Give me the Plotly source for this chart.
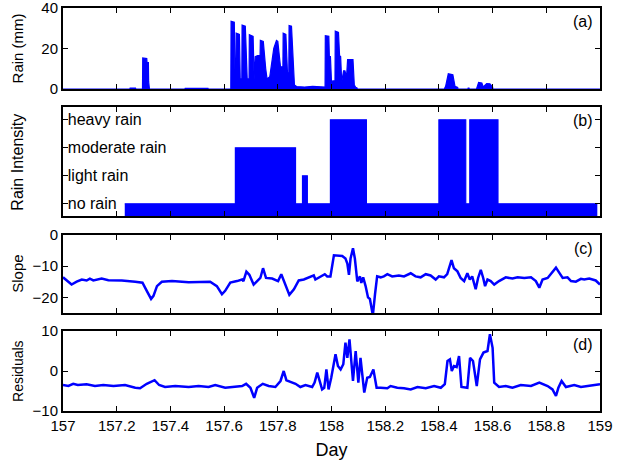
import plotly.graph_objects as go

# ---------------- data ----------------
# (a) rain (mm)
rain_day = [157.0, 157.249, 157.25, 157.27, 157.271, 157.296, 157.297, 157.312, 157.313, 157.318, 157.319, 157.322,
            157.454, 157.455, 157.54, 157.541,
            157.625, 157.626, 157.638, 157.641, 157.644, 157.645, 157.657, 157.66, 157.666, 157.667, 157.679,
            157.682, 157.686, 157.693, 157.694, 157.708, 157.712, 157.716, 157.725, 157.734, 157.735, 157.746,
            157.752, 157.755, 157.76, 157.77, 157.785, 157.795, 157.80, 157.81, 157.819, 157.82, 157.83, 157.836,
            157.841, 157.842, 157.851, 157.856, 157.862, 157.87, 157.9, 157.93, 157.976, 157.977, 157.99, 157.992,
            157.996, 158.0, 158.005, 158.013, 158.014, 158.026, 158.03, 158.034, 158.038, 158.045, 158.05, 158.056,
            158.06, 158.08, 158.085, 158.09, 158.095, 158.096,
            158.42, 158.425, 158.435, 158.452, 158.46, 158.47, 158.471, 158.508, 158.509, 158.512, 158.513,
            158.54, 158.548, 158.56, 158.565, 158.578, 158.59, 158.60, 158.601, 159.0]
rain_mm = [0.0, 0.0, 0.5, 0.5, 0.0, 0.0, 15.3, 15.0, 13.0, 13.0, 3.5, 0.0,
           0.0, 0.3, 0.3, 0.0,
           0.0, 33.4, 33.0, 5.0, 5.0, 27.6, 27.0, 5.0, 5.0, 31.6,
           31.0, 17.0, 5.0, 5.0, 26.8, 26.0, 5.0, 16.0, 16.5, 16.5, 24.0, 23.5,
           12.0, 10.0, 5.0, 6.0, 20.0, 24.0, 23.5, 11.0, 11.0, 27.6, 27.0, 8.0,
           8.0, 31.3, 31.0, 14.0, 2.0, 1.2, 1.0, 1.3, 1.0, 26.3, 26.0, 16.0,
           16.0, 3.5, 4.0, 4.0, 28.6, 28.0, 16.5, 16.0, 3.5, 9.0, 9.0, 6.0,
           14.5, 14.5, 2.0, 0.8, 0.5, 0.0,
           0.0, 1.3, 7.5, 7.0, 1.3, 0.8, 0.0, 0.0, 0.5, 0.5, 0.0,
           0.0, 3.3, 3.0, 1.0, 2.7, 2.6, 1.0, 0.0, 0.0]

# (b) rain intensity (1=no rain, 2=light, 3=moderate, 4=heavy), step starts
intensity_day = [157.23, 157.642, 157.866, 157.892, 157.91, 157.996, 158.13, 158.40, 158.50, 158.515, 158.62, 158.99]
intensity_level = [1, 3, 1, 2, 1, 4, 1, 4, 1, 4, 1, 1]
intensity_labels = ["no rain", "light rain", "moderate rain", "heavy rain"]

# (c) slope
slope_day = [157.0, 157.003, 157.032, 157.051, 157.07, 157.088, 157.10, 157.113, 157.126, 157.144, 157.169,
             157.219, 157.269, 157.296, 157.312, 157.328, 157.337, 157.35, 157.368, 157.406, 157.468, 157.517,
             157.548, 157.573, 157.592, 157.604, 157.623, 157.648, 157.667, 157.672, 157.683, 157.694, 157.71,
             157.723, 157.735, 157.745, 157.756, 157.779, 157.801, 157.813, 157.828, 157.843, 157.86, 157.878,
             157.897, 157.915, 157.934, 157.94, 157.959, 157.975, 157.984, 157.996, 158.009, 158.04, 158.052,
             158.059, 158.065, 158.071, 158.08, 158.087, 158.096, 158.106, 158.111, 158.118, 158.127, 158.136,
             158.143, 158.154, 158.162, 158.17, 158.183, 158.195, 158.208, 158.226, 158.251, 158.27, 158.295,
             158.313, 158.332, 158.351, 158.369, 158.388, 158.40, 158.419, 158.431, 158.447, 158.456, 158.469,
             158.481, 158.494, 158.506, 158.515, 158.524, 158.537, 158.546, 158.556, 158.565, 158.572, 158.581,
             158.593, 158.606, 158.624, 158.649, 158.674, 158.693, 158.718, 158.743, 158.761, 158.774, 158.786,
             158.805, 158.821, 158.836, 158.848, 158.861, 158.879, 158.892, 158.91, 158.929, 158.941, 158.96,
             158.972, 158.984, 159.0]
slope_val = [-13.6, -13.8, -15.9, -15.0, -14.3, -14.6, -14.0, -14.6, -14.3, -14.0, -14.5,
             -14.6, -15.0, -15.3, -17.9, -20.5, -19.5, -16.4, -15.0, -14.8, -15.2, -15.0,
             -15.0, -16.4, -19.0, -17.9, -15.3, -14.8, -14.3, -14.8, -11.8, -12.8, -15.9,
             -14.8, -13.8, -10.7, -13.8, -14.0, -14.8, -12.6, -15.9, -19.2, -17.4, -14.6,
             -14.3, -13.6, -13.0, -14.3, -13.3, -12.6, -13.3, -13.3, -6.6, -6.8, -7.6,
             -9.2, -12.8, -7.6, -4.3, -7.6, -14.9, -13.3, -15.4, -13.6, -16.4, -20.0,
             -20.5, -25.7, -19.0, -13.3, -13.6, -13.3, -12.6, -13.3, -13.0, -13.3, -12.3,
             -13.3, -13.6, -12.6, -13.0, -14.3, -13.3, -13.6, -12.6, -8.1, -10.7, -11.7,
             -13.8, -14.8, -12.3, -14.3, -13.3, -17.4, -13.8, -11.2, -13.8, -16.4, -14.3,
             -14.8, -15.9, -14.8, -13.6, -14.0, -13.6, -13.8, -13.6, -14.8, -16.9, -14.3,
             -13.8, -12.0, -10.5, -12.1, -13.8, -13.6, -14.8, -15.0, -14.1, -14.3, -14.0,
             -14.3, -14.6, -15.9]

# (d) residuals
resid_day = [157.0, 157.02, 157.038, 157.055, 157.088, 157.119, 157.15, 157.188, 157.231, 157.269, 157.287,
             157.312, 157.341, 157.358, 157.38, 157.418, 157.468, 157.505, 157.542, 157.567, 157.604, 157.642,
             157.667, 157.682, 157.698, 157.712, 157.723, 157.744, 157.766, 157.791, 157.81, 157.822, 157.832,
             157.847, 157.866, 157.884, 157.903, 157.928, 157.937, 157.947, 157.956, 157.965, 157.973, 157.981,
             157.989, 157.999, 158.015, 158.024, 158.034, 158.044, 158.052, 158.059, 158.067, 158.08, 158.09,
             158.10, 158.108, 158.122, 158.133, 158.143, 158.156, 158.168, 158.183, 158.208, 158.22, 158.245,
             158.27, 158.295, 158.32, 158.351, 158.382, 158.407, 158.422, 158.432, 158.441, 158.448, 158.456,
             158.466, 158.475, 158.484, 158.506, 158.516, 158.527, 158.541, 158.553, 158.566, 158.581, 158.59,
             158.60, 158.606, 158.624, 158.649, 158.674, 158.705, 158.743, 158.774, 158.805, 158.823, 158.836,
             158.845, 158.857, 158.873, 158.904, 158.929, 158.954, 158.979, 159.0]
resid_val = [-3.5, -3.75, -3.2, -3.5, -3.3, -3.75, -3.5, -3.75, -3.5, -4.2, -4.3,
             -3.2, -2.3, -3.5, -4.0, -3.75, -4.0, -3.75, -4.0, -3.5, -4.2, -4.0,
             -3.75, -3.2, -4.2, -6.7, -4.2, -3.2, -3.75, -4.0, -2.5, 0.0, -2.3,
             -2.7, -3.2, -4.0, -3.5, -4.0, -2.9, -0.4, -2.3, -4.6, -4.2, 0.4,
             -4.6, -1.7, 4.2, 1.25, 0.4, 1.7, 7.1, 3.3, 7.9, -2.5, 5.0,
             -2.9, 3.3, -5.4, -1.7, -1.5, 0.4, -4.2, -4.2, -4.3, -3.75, -4.2,
             -4.3, -4.6, -4.0, -4.3, -3.75, -4.2, -3.3, 2.5, 2.9, 0.0, 1.25,
             1.0, 3.75, -4.0, -4.2, 3.3, 2.5, -3.75, 2.9, 4.6, 5.0, 9.2,
             5.8, -2.9, -4.0, -3.75, -4.2, -3.5, -3.75, -2.9, -3.75, -4.6, -6.25,
             -4.2, -2.5, -4.0, -3.5, -4.0, -3.75, -3.5, -3.3]

x_ticks = [157, 157.2, 157.4, 157.6, 157.8, 158, 158.2, 158.4, 158.6, 158.8, 159]

# ---------------- figure ----------------
BLUE = "#0000FF"
FONT = "Liberation Sans, Arial, sans-serif"
fig = go.Figure()

fig.add_trace(go.Scatter(x=rain_day, y=rain_mm, mode="lines", fill="tozeroy",
                         line=dict(color=BLUE, width=1.2), fillcolor=BLUE,
                         xaxis="x", yaxis="y", showlegend=False))
fig.add_trace(go.Scatter(x=intensity_day, y=intensity_level, mode="lines", line_shape="hv",
                         fill="tozeroy", line=dict(color=BLUE, width=1.2), fillcolor=BLUE,
                         xaxis="x2", yaxis="y2", showlegend=False))
fig.add_trace(go.Scatter(x=slope_day, y=slope_val, mode="lines",
                         line=dict(color=BLUE, width=2.5),
                         xaxis="x3", yaxis="y3", showlegend=False))
fig.add_trace(go.Scatter(x=resid_day, y=resid_val, mode="lines",
                         line=dict(color=BLUE, width=2.5),
                         xaxis="x4", yaxis="y4", showlegend=False))

domains = [[0.799, 1.0], [0.483, 0.754], [0.243, 0.4375], [0.0, 0.1985]]
yranges = [[0, 40], [0.55, 4.45], [-25, 0], [-10, 10]]
yticks = [[0, 20, 40], [1, 2, 3, 4], [-20, -10, 0], [-10, 0, 10]]

common_axis = dict(showline=True, linecolor="black", linewidth=2, mirror="ticks",
                   ticks="inside", ticklen=5, tickwidth=1, tickcolor="black",
                   showgrid=False, zeroline=False, automargin=False,
                   ticklabeloverflow="allow",
                   tickfont=dict(family=FONT, size=15, color="black"))

layout = dict(width=622, height=464, margin=dict(l=63, r=22, t=8, b=53),
              template="none",
              plot_bgcolor="white", paper_bgcolor="white",
              font=dict(family=FONT, color="black"))
for i in range(4):
    s = "" if i == 0 else str(i + 1)
    xa = dict(common_axis, range=[157, 159], tickvals=x_ticks,
              anchor="y" + s, showticklabels=(i == 3))
    if i < 3:
        xa["matches"] = "x4"
    if i == 3:
        xa["ticktext"] = [("%g" % v) for v in x_ticks]
        xa["title"] = dict(text="Day", font=dict(family=FONT, size=18), standoff=10)
    ya = dict(common_axis, domain=domains[i], range=yranges[i], tickvals=yticks[i],
              anchor="x" + s)
    if i == 1:
        ya["ticktext"] = intensity_labels
        ya["ticklabelposition"] = "inside"
        ya["tickfont"] = dict(family=FONT, size=16, color="black")
    layout["xaxis" + s] = xa
    layout["yaxis" + s] = ya

fig.update_layout(**layout)

ytitles = ["Rain (mm)", "Rain Intensity", "Slope", "Residuals"]
ytitle_sizes = [15, 16, 15, 14]
panel_labels = ["(a)", "(b)", "(c)", "(d)"]
for i in range(4):
    mid = (domains[i][0] + domains[i][1]) / 2
    fig.add_annotation(text=ytitles[i], xref="paper", yref="paper", x=-0.084, y=mid,
                       textangle=-90, showarrow=False, xanchor="center", yanchor="middle",
                       font=dict(family=FONT, size=ytitle_sizes[i], color="black"))
    fig.add_annotation(text=panel_labels[i], xref="paper", yref="paper", x=0.99,
                       y=domains[i][1] - 0.008, showarrow=False, xanchor="right", yanchor="top",
                       font=dict(family=FONT, size=16, color="black"))

fig.write_html("out.html", config={"displayModeBar": False},
               post_script="document.body.style.margin='0px';")
